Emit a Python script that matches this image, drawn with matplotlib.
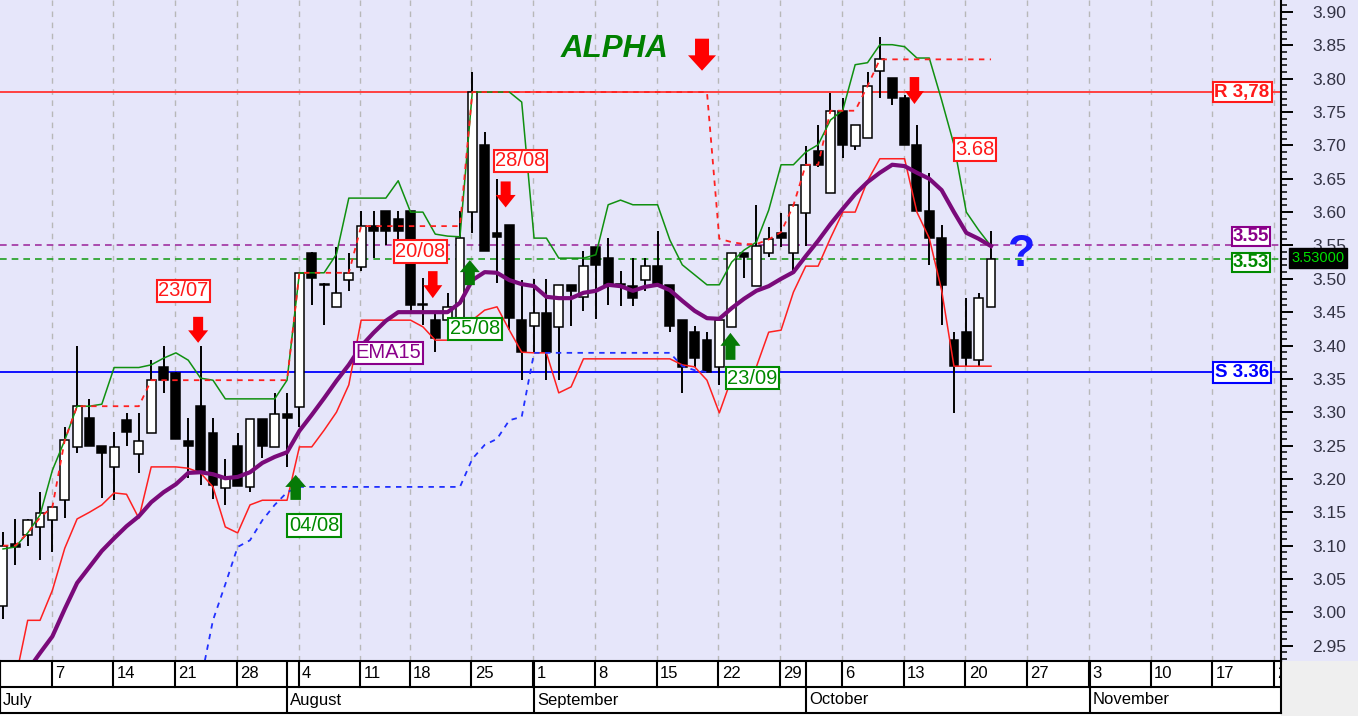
import numpy as np
import matplotlib
matplotlib.use('Agg')
import matplotlib.pyplot as plt
import matplotlib.transforms as mtransforms
from matplotlib.patches import Polygon, Rectangle

plt.rcParams['font.family'] = ['Liberation Sans', 'DejaVu Sans']

W, H = 1358, 716
nan = np.nan

# daily candles, trading days 1 Jul .. 22 Oct (15 Aug closed)
opens = [3.010, 3.102, 3.116, 3.128, 3.138, 3.168, 3.248, 3.291, 3.250, 3.218,
         3.289, 3.237, 3.269, 3.368, 3.359, 3.257, 3.309, 3.269, 3.187, 3.250,
         3.188, 3.290, 3.248, 3.298, 3.308, 3.539, 3.492, 3.458, 3.498, 3.518,
         3.579, 3.601, 3.589, 3.601, 3.462, 3.438, 3.438, 3.423, 3.600, 3.700,
         3.568, 3.581, 3.438, 3.429, 3.449, 3.428, 3.491, 3.473, 3.548, 3.531,
         3.492, 3.489, 3.498, 3.519, 3.491, 3.438, 3.421, 3.409, 3.368, 3.428,
         3.539, 3.489, 3.539, 3.569, 3.539, 3.599, 3.691, 3.629, 3.752, 3.699,
         3.711, 3.811, 3.801, 3.771, 3.701, 3.601, 3.561, 3.409, 3.421, 3.379,
         3.458]
highs = [3.120, 3.140, 3.140, 3.180, 3.160, 3.278, 3.400, 3.320, 3.250, 3.270,
         3.299, 3.299, 3.378, 3.400, 3.360, 3.291, 3.400, 3.291, 3.230, 3.269,
         3.290, 3.290, 3.329, 3.329, 3.509, 3.540, 3.493, 3.548, 3.539, 3.601,
         3.601, 3.601, 3.601, 3.601, 3.501, 3.448, 3.478, 3.601, 3.810, 3.720,
         3.650, 3.581, 3.498, 3.499, 3.499, 3.491, 3.491, 3.541, 3.548, 3.561,
         3.511, 3.531, 3.531, 3.571, 3.491, 3.438, 3.429, 3.421, 3.438, 3.539,
         3.539, 3.611, 3.578, 3.599, 3.610, 3.699, 3.731, 3.779, 3.771, 3.731,
         3.810, 3.863, 3.801, 3.776, 3.731, 3.659, 3.581, 3.421, 3.471, 3.478,
         3.571]
lows = [2.990, 3.071, 3.099, 3.078, 3.091, 3.141, 3.239, 3.250, 3.171, 3.168,
        3.250, 3.209, 3.269, 3.329, 3.260, 3.201, 3.191, 3.170, 3.161, 3.189,
        3.181, 3.231, 3.248, 3.218, 3.278, 3.461, 3.431, 3.458, 3.481, 3.511,
        3.531, 3.551, 3.551, 3.451, 3.431, 3.391, 3.423, 3.423, 3.569, 3.541,
        3.493, 3.423, 3.348, 3.391, 3.348, 3.348, 3.429, 3.451, 3.439, 3.461,
        3.459, 3.459, 3.481, 3.491, 3.421, 3.329, 3.368, 3.361, 3.341, 3.428,
        3.501, 3.489, 3.532, 3.548, 3.511, 3.549, 3.668, 3.629, 3.681, 3.693,
        3.711, 3.771, 3.761, 3.701, 3.601, 3.521, 3.431, 3.299, 3.369, 3.369,
        3.458]
closes = [3.100, 3.098, 3.138, 3.149, 3.158, 3.258, 3.309, 3.250, 3.239, 3.248,
          3.271, 3.257, 3.348, 3.348, 3.260, 3.250, 3.211, 3.191, 3.201, 3.189,
          3.290, 3.250, 3.298, 3.291, 3.509, 3.501, 3.490, 3.478, 3.509, 3.579,
          3.571, 3.571, 3.571, 3.461, 3.460, 3.411, 3.458, 3.561, 3.780, 3.541,
          3.562, 3.441, 3.391, 3.449, 3.391, 3.491, 3.481, 3.519, 3.521, 3.491,
          3.490, 3.471, 3.519, 3.491, 3.429, 3.368, 3.381, 3.361, 3.438, 3.539,
          3.532, 3.549, 3.559, 3.561, 3.610, 3.671, 3.671, 3.752, 3.701, 3.731,
          3.789, 3.829, 3.771, 3.701, 3.601, 3.561, 3.491, 3.369, 3.381, 3.471,
          3.530]

ema15 = [nan, 2.887, 2.913, 2.939, 2.964, 3.005, 3.044, 3.068, 3.092, 3.111,
         3.129, 3.144, 3.165, 3.180, 3.192, 3.209, 3.210, 3.207, 3.201, 3.203,
         3.210, 3.224, 3.233, 3.240, 3.272, 3.296, 3.321, 3.347, 3.371, 3.399,
         3.419, 3.437, 3.450, 3.450, 3.450, 3.450, 3.450, 3.464, 3.498, 3.510,
         3.509, 3.498, 3.492, 3.489, 3.473, 3.471, 3.471, 3.479, 3.482, 3.491,
         3.489, 3.482, 3.488, 3.491, 3.483, 3.467, 3.452, 3.441, 3.440, 3.456,
         3.470, 3.482, 3.489, 3.500, 3.510, 3.534, 3.557, 3.582, 3.605, 3.627,
         3.645, 3.659, 3.671, 3.669, 3.659, 3.650, 3.633, 3.600, 3.569, 3.560,
         3.549]
upper_band = [3.095, 3.098, 3.119, 3.146, 3.213, 3.258, 3.309, 3.309, 3.312, 3.367,
              3.367, 3.367, 3.371, 3.381, 3.389, 3.378, 3.351, 3.348, 3.320, 3.320,
              3.320, 3.320, 3.320, 3.348, 3.509, 3.509, 3.509, 3.537, 3.621, 3.621,
              3.621, 3.621, 3.647, 3.600, 3.600, 3.567, 3.564, 3.563, 3.780, 3.780,
              3.780, 3.780, 3.765, 3.561, 3.561, 3.531, 3.531, 3.531, 3.536, 3.611,
              3.618, 3.611, 3.611, 3.611, 3.558, 3.521, 3.506, 3.491, 3.491, 3.525,
              3.543, 3.555, 3.603, 3.671, 3.671, 3.690, 3.701, 3.738, 3.753, 3.821,
              3.824, 3.851, 3.851, 3.848, 3.831, 3.831, 3.768, 3.701, 3.600, 3.573,
              3.549]
lower_band = [nan, 2.899, 2.988, 2.988, 3.033, 3.096, 3.140, 3.150, 3.161, 3.179,
              3.177, 3.141, 3.218, 3.218, 3.218, 3.216, 3.209, 3.188, 3.128, 3.119,
              3.161, 3.168, 3.168, 3.168, 3.248, 3.248, 3.273, 3.300, 3.341, 3.438,
              3.438, 3.438, 3.438, 3.438, 3.428, 3.408, 3.408, 3.408, 3.438, 3.453,
              3.458, 3.423, 3.390, 3.389, 3.389, 3.329, 3.338, 3.380, 3.380, 3.380,
              3.380, 3.380, 3.380, 3.380, 3.380, 3.371, 3.368, 3.348, 3.299, 3.351,
              3.360, 3.368, 3.420, 3.423, 3.480, 3.519, 3.519, 3.561, 3.600, 3.600,
              3.647, 3.680, 3.680, 3.680, 3.600, 3.561, 3.483, 3.369, 3.369, 3.369,
              3.369]
trail_stop = [3.100, 3.100, 3.119, 3.142, 3.158, 3.258, 3.309, 3.309, 3.309, 3.309,
              3.309, 3.309, 3.348, 3.348, 3.348, 3.348, 3.348, 3.348, 3.348, 3.348,
              3.348, 3.348, 3.348, 3.348, 3.509, 3.509, 3.509, 3.509, 3.509, 3.579,
              3.579, 3.579, 3.579, 3.579, 3.579, 3.579, 3.579, 3.579, 3.780, 3.780,
              3.780, 3.780, 3.780, 3.780, 3.780, 3.780, 3.780, 3.780, 3.780, 3.780,
              3.780, 3.780, 3.780, 3.780, 3.780, 3.780, 3.780, 3.780, 3.560, 3.555,
              3.552, 3.552, 3.559, 3.570, 3.610, 3.671, 3.671, 3.752, 3.752, 3.752,
              3.789, 3.829, 3.829, 3.829, 3.829, 3.829, 3.829, 3.829, 3.829, 3.829,
              3.829]
low_stop = [nan, nan, nan, nan, nan, nan, nan, nan, nan, nan,
            nan, nan, nan, nan, nan, nan, 2.896, 2.988, 3.042, 3.098,
            3.108, 3.138, 3.161, 3.180, 3.188, 3.188, 3.188, 3.188, 3.188, 3.188,
            3.188, 3.188, 3.188, 3.188, 3.188, 3.188, 3.188, 3.188, 3.230, 3.251,
            3.260, 3.288, 3.293, 3.389, 3.389, 3.389, 3.389, 3.389, 3.389, 3.389,
            3.389, 3.389, 3.389, 3.389, 3.389, 3.369, 3.363, 3.360, nan, nan,
            nan, nan, nan, nan, nan, nan, nan, nan, nan, nan,
            nan, nan, nan, nan, nan, nan, nan, nan, nan, nan,
            nan]

# calendar axis (trading day index of each Monday / month start)
week_idx = [4, 9, 14, 19, 24, 29, 33, 38, 43, 48, 53, 58, 63, 68, 73, 78, 83, 88, 93, 98, 103]
week_labels = ['7', '14', '21', '28', '4', '11', '18', '25', '1', '8', '15', '22', '29',
               '6', '13', '20', '27', '3', '10', '17', '24']
month_idx = [-0.24, 23, 43, 65, 88]
month_names = ['July', 'August', 'September', 'October', 'November']

resistance = 3.78
support = 3.36
ema_level = 3.55
close_level = 3.53

# signals
boxes = [('23/07', 14.6, 3.482, 'red'), ('04/08', 25.2, 3.130, 'green'),
         ('20/08', 33.8, 3.541, 'red'), ('25/08', 38.2, 3.425, 'green'),
         ('28/08', 41.9, 3.677, 'red'), ('23/09', 60.7, 3.351, 'green'),
         ('3.68', 78.7, 3.694, 'red'), ('EMA15', 31.2, 3.389, 'purple')]
arrows = [(15.8, 3.404, 'down', 20, 26), (34.8, 3.471, 'down', 19, 27),
          (40.7, 3.607, 'down', 20, 26), (56.6, 3.812, 'down', 28, 32),
          (73.8, 3.762, 'down', 19, 27), (23.7, 3.206, 'up', 21, 25),
          (37.8, 3.528, 'up', 20, 25), (58.9, 3.419, 'up', 20, 27)]

col = {'red': '#ff1a1a', 'green': '#008a00', 'purple': '#8a008a', 'blue': '#0000ff'}
lav = '#e6e6fa'

fig = plt.figure(figsize=(W / 100, H / 100), dpi=100)
fig.patch.set_facecolor('white')
fig.add_artist(Rectangle((1281 / W, 1 - 661 / H), 1 - 1281 / W, 661 / H,
                         transform=fig.transFigure, fc=lav, ec='none', zorder=0))
fig.add_artist(Rectangle((1281 / W, 0), 1 - 1281 / W, 55 / H,
                         transform=fig.transFigure, fc='#efefef', ec='none', zorder=0))

ax = fig.add_axes([0, 1 - 661 / H, 1281 / W, 661 / H])
ax.set_facecolor(lav)
ax.set_xlim(-0.243, 103.48)
ax.set_ylim(2.927, 3.918)
for s in ['top', 'left', 'bottom']:
    ax.spines[s].set_visible(False)
ax.spines['right'].set_linewidth(1.5)
ax.set_xticks([])
ax.yaxis.tick_right()
ax.set_yticks(np.round(np.arange(2.95, 3.901, 0.05), 2))
ax.set_yticks(np.round(np.arange(2.93, 3.911, 0.01), 2), minor=True)
ax.yaxis.set_major_formatter(matplotlib.ticker.FormatStrFormatter('%.2f'))
ax.tick_params(axis='y', which='major', length=8.6, width=1.4, direction='out',
               labelsize=12.5, pad=14, labelcolor='#333344', color='black')
ax.tick_params(axis='y', which='minor', length=4.3, width=1.1, direction='out')

for xi in week_idx:
    ax.axvline(xi - 0.07, color='#b8b8b8', lw=1, ls=(0, (4, 4)), zorder=1)

x = np.arange(len(closes))
o = np.array(opens); c = np.array(closes)
ax.vlines(x, lows, highs, color='black', lw=1.4, zorder=2)
ax.bar(x, np.maximum(np.abs(c - o), 0.0015), bottom=np.minimum(o, c), width=0.72,
       color=['white' if cc >= oo else 'black' for oo, cc in zip(o, c)],
       edgecolor='black', lw=1.1, zorder=3)

ax.axhline(resistance, color='#ff4040', lw=1.4, zorder=1.5)
ax.axhline(support, color='#1010ff', lw=1.4, zorder=1.5)
ax.axhline(ema_level, color='#a030a0', lw=1.2, ls=(0, (4, 3)), zorder=1.5)
ax.axhline(close_level, color='#20a020', lw=1.2, ls=(0, (4, 3)), zorder=1.5)

ax.plot(x, upper_band, color='#109010', lw=1.1, zorder=4)
ax.plot(x, lower_band, color='#ff2020', lw=1.1, zorder=4)
ax.plot(x, trail_stop, color='#ff2020', lw=1.3, ls=(0, (3, 3)), zorder=4)
ax.plot(x, low_stop, color='#2030ff', lw=1.3, ls=(0, (3, 3)), zorder=4)
ax.plot(x, ema15, color='#7a0a7a', lw=3, zorder=5)


def block_arrow(xi, tip, way, w, L, color):
    hw, sw, hl = w / 2, w / 4, L * 0.48
    pts = [(0, 0), (-hw, hl), (-sw, hl), (-sw, L), (sw, L), (sw, hl), (hw, hl)]
    sgn = 1 if way == 'down' else -1
    pts = [(px / 100, sgn * py / 100) for px, py in pts]
    tr = fig.dpi_scale_trans + mtransforms.ScaledTranslation(xi, tip, ax.transData)
    ax.add_patch(Polygon(pts, closed=True, fc=color, ec='none', transform=tr,
                         zorder=7, clip_on=False))


for xi, tip, way, w, L in arrows:
    block_arrow(xi, tip, way, w, L, '#ff0000' if way == 'down' else '#067a06')

for txt, xi, yv, cname in boxes:
    ax.text(xi, yv, txt, color=col[cname], fontsize=14.5, ha='center', va='center', zorder=8,
            bbox=dict(boxstyle='square,pad=0.08', fc='white', ec=col[cname], lw=1.5))

ax.text(49.5, 3.845, 'ALPHA', color='#008000', fontsize=22.5, fontweight='bold',
        fontstyle='italic', ha='center', va='center', zorder=8)
ax.text(82.5, 3.537, '?', color='#1a1aff', fontsize=32, fontweight='bold',
        ha='center', va='center', zorder=8)

rx = (1242 - 3) / 12.35
ax.text(rx, resistance, 'R 3,78', color=col['red'], fontsize=13.5, fontweight='bold',
        ha='center', va='center', zorder=8,
        bbox=dict(boxstyle='square,pad=0.1', fc='white', ec=col['red'], lw=1.5))
ax.text(rx, support, 'S 3.36', color=col['blue'], fontsize=13.5, fontweight='bold',
        ha='center', va='center', zorder=8,
        bbox=dict(boxstyle='square,pad=0.1', fc='white', ec=col['blue'], lw=1.5))
bx = (1251 - 3) / 12.35
ax.text(bx, 3.563, '3.55', color=col['purple'], fontsize=13.5, fontweight='bold',
        ha='center', va='center', zorder=8,
        bbox=dict(boxstyle='square,pad=0.05', fc='white', ec=col['purple'], lw=1.5))
ax.text(bx, 3.524, '3.53', color=col['green'], fontsize=13.5, fontweight='bold',
        ha='center', va='center', zorder=8,
        bbox=dict(boxstyle='square,pad=0.05', fc='white', ec=col['green'], lw=1.5))

fig.text(1318 / W, 1 - 258 / H, '3.53000', color='#00e000', fontsize=10.5,
         ha='center', va='center', zorder=10,
         bbox=dict(boxstyle='square,pad=0.2', fc='black', ec='black'))

# calendar rows
dax = fig.add_axes([0, 1 - 713 / H, 1281 / W, 52 / H])
dax.set_xlim(ax.get_xlim())
dax.set_ylim(0, 2)
dax.set_facecolor('white')
dax.set_xticks([]); dax.set_yticks([])
for s in dax.spines.values():
    s.set_linewidth(1.5)
dax.axhline(1, color='black', lw=1.5)
for xi, lab in zip(week_idx, week_labels):
    dax.plot([xi - 0.07, xi - 0.07], [1, 2], color='black', lw=1.5)
    dax.text(xi + 0.2, 1.5, lab, fontsize=12, ha='left', va='center', clip_on=True)
for xi, name in zip(month_idx, month_names):
    dax.plot([xi, xi], [0, 2], color='black', lw=1.5)
    dax.text(xi + 0.25, 0.5, name, fontsize=12, ha='left', va='center', clip_on=True)

fig.savefig('out.png', dpi=100)
